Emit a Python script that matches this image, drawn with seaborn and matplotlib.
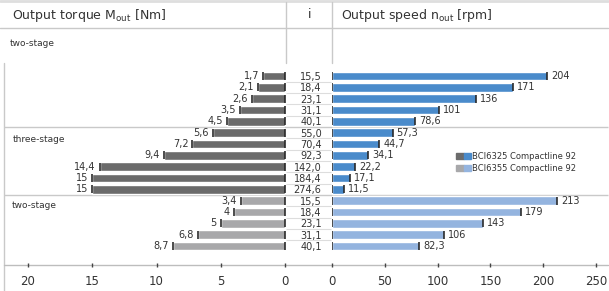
import numpy as np
import pandas as pd
import matplotlib
matplotlib.use("Agg")
import matplotlib.pyplot as plt
import matplotlib.transforms as mtransforms
from matplotlib.patches import Patch
from matplotlib.legend_handler import HandlerTuple
import seaborn as sns

# data
stage_names = ["two-stage", "three-stage", "two-stage"]
stage_models = ["BCI6325 Compactline 92", "BCI6325 Compactline 92", "BCI6355 Compactline 92"]
group_sizes = [5, 6, 5]
ratio = [15.5, 18.4, 23.1, 31.1, 40.1,
         55.0, 70.4, 92.3, 142.0, 184.4, 274.6,
         15.5, 18.4, 23.1, 31.1, 40.1]
torque = [1.7, 2.1, 2.6, 3.5, 4.5,
          5.6, 7.2, 9.4, 14.4, 15, 15,
          3.4, 4, 5, 6.8, 8.7]
speed = [204, 171, 136, 101, 78.6,
         57.3, 44.7, 34.1, 22.2, 17.1, 11.5,
         213, 179, 143, 106, 82.3]
torque_ticks = [20, 15, 10, 5, 0]
speed_ticks = [0, 50, 100, 150, 200, 250]

models = ["BCI6325 Compactline 92", "BCI6355 Compactline 92"]
torque_colors = {models[0]: "#6b6b6b", models[1]: "#a8a8aa"}
speed_colors = {models[0]: "#4a8bcb", models[1]: "#94b4df"}

model_col = []
for m, n in zip(stage_models, group_sizes):
    model_col += [m] * n
rows = [f"r{k}" for k in range(len(ratio))]
df = pd.DataFrame({"row": rows, "model": model_col, "ratio": ratio,
                   "torque": torque, "speed": speed})


def fmt(v, dec=None):
    s = f"{v:.{dec}f}" if dec is not None else f"{v:g}"
    return s.replace(".", ",")


sns.set_style("white")
plt.rcParams["font.family"] = ["DejaVu Sans"]
plt.rcParams["mathtext.default"] = "regular"

W, H = 609, 291
fig = plt.figure(figsize=(W / 100, H / 100), dpi=100)

# pixel helper for the layout
def box(x0, x1, y0, y1):
    return [x0 / W, 1 - y1 / H, (x1 - x0) / W, (y1 - y0) / H]

bg = fig.add_axes([0, 0, 1, 1], zorder=0)
bg.set_xlim(0, W)
bg.set_ylim(H, 0)
bg.axis("off")

ax_l = fig.add_axes(box(28, 285, 28, 265), zorder=2)
ax_r = fig.add_axes(box(332, 596, 28, 265), zorder=2)

pos = np.arange(len(df))
ylim = (16.68, -4.24)

for ax, col, pal, lim, ticks in [(ax_l, "torque", torque_colors, (20, 0), torque_ticks),
                                 (ax_r, "speed", speed_colors, (0, 250), speed_ticks)]:
    sns.barplot(data=df, x=col, y="row", hue="model", order=rows, hue_order=models,
                palette=pal, dodge=False, orient="h", width=0.78, saturation=1,
                errorbar=None, legend=False, ax=ax)
    ax.set_xlim(*lim)
    ax.set_ylim(*ylim)
    for c in ax.containers:
        anns = ax.bar_label(c, labels=[fmt(v) for v in c.datavalues], padding=3,
                            fontsize=7, color="#333333")
        if ax is ax_l:
            for a in anns:
                a.set_horizontalalignment("right")
                a.xyann = (-3, 0)
    ax.plot(df[col], pos, "|", color="#1a1a1a", ms=6, mew=1.1)
    ax.plot(np.zeros(len(df)), pos, "|", color="#1a1a1a", ms=6, mew=1.1)
    ax.set_xticks(ticks)
    ax.set_xticklabels([str(t) for t in ticks])
    ax.set_xlabel("")
    ax.set_ylabel("")
    ax.patch.set_alpha(0)
    for s in ax.spines.values():
        s.set_visible(False)
    ax.tick_params(axis="x", bottom=True, length=3, width=1, color="#444444",
                   direction="inout", labelsize=8.5, pad=6, labelcolor="#333333")

ax_l.set_yticks([])
ax_r.set_yticks(pos)
ax_r.set_yticklabels([fmt(v, 1) for v in ratio])
ax_r.tick_params(axis="y", left=False, length=0, pad=7.5, labelsize=7, labelcolor="#333333")

# table lines
line_c = "#c9c9c9"
bg.plot([0, W - 1], [1, 1], color="#dedede", lw=2)
bg.plot([0, W - 1], [28, 28], color=line_c, lw=1)
bg.plot([285.5, 285.5], [2, 63], color=line_c, lw=1)
bg.plot([332, 332], [2, 63], color=line_c, lw=1)
bg.plot([4, 4], [63, H], color=line_c, lw=1)
bg.plot([4, W - 1], [265, 265], color="#bdbdbd", lw=1)

row_tr = mtransforms.blended_transform_factory(bg.transData, ax_r.transData)
bounds = np.cumsum(group_sizes)[:-1] - 0.5
bg.hlines(bounds, 4, W - 1, color=line_c, lw=1, transform=row_tr)
seps = [b for b in pos[:-1] + 0.5 if b not in bounds]
bg.hlines(seps, 286, 331, color="#dddddd", lw=0.8, transform=row_tr)

# headers
bg.text(12, 15, r"Output torque M$_{out}$ [Nm]", fontsize=9, va="center", color="#333333")
bg.text(310, 15, "i", fontsize=9, va="center", ha="center", color="#333333")
bg.text(341, 15, r"Output speed n$_{out}$ [rpm]", fontsize=9, va="center", color="#333333")

for name, (x, y) in zip(stage_names, [(10, 43), (13, 140), (12, 206)]):
    bg.text(x, y, name, fontsize=6.5, va="center", color="#333333")

handles = [(Patch(color=torque_colors[m]), Patch(color=speed_colors[m])) for m in models]
fig.legend(handles, models, handler_map={tuple: HandlerTuple(ndivide=None, pad=0)},
           loc="upper left", bbox_to_anchor=(456 / W, 1 - 152 / H), frameon=False,
           fontsize=6, handlelength=1.8, handleheight=0.8, handletextpad=0.15,
           labelspacing=0.35, borderpad=0, borderaxespad=0, labelcolor="#333333")

fig.savefig("out.png", dpi=100)
